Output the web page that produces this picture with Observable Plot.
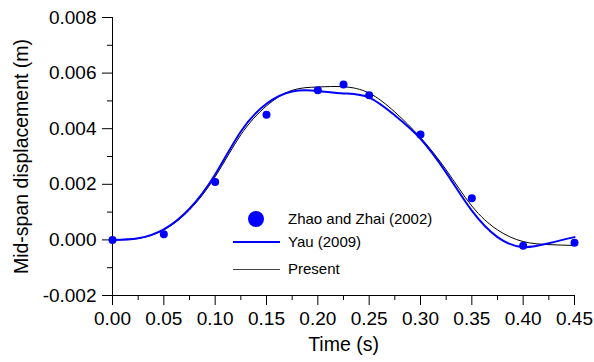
<!DOCTYPE html>
<html>
<head>
<meta charset="utf-8">
<script src="https://cdn.jsdelivr.net/npm/d3@7"></script>
<script src="https://cdn.jsdelivr.net/npm/@observablehq/plot@0.6"></script>
<style>
  body { margin: 0; background: #fff; }
  svg { font-family: "Liberation Sans", Arial, sans-serif; }
</style>
</head>
<body>
<div id="chart"></div>
<script>
// Time axis values (s)
const timeGrid = [0, 0.025, 0.05, 0.075, 0.1, 0.125, 0.15, 0.175, 0.2, 0.225, 0.25, 0.275, 0.3, 0.325, 0.35, 0.375, 0.4, 0.425, 0.45];
// Yau (2009) mid-span displacement (m)
const yauValues = [0, 0.00006, 0.00038, 0.00112, 0.00235, 0.0039, 0.0049, 0.00534, 0.00536, 0.00527, 0.00512, 0.00448, 0.00364, 0.00242, 0.00105, 0.0001, -0.00026, -0.00012, 0.0001];
// Present mid-span displacement (m)
const presentValues = [0, 0.00005, 0.00036, 0.00108, 0.00227, 0.00378, 0.00482, 0.00538, 0.0055, 0.00551, 0.00528, 0.0046, 0.00368, 0.00252, 0.00122, 0.00036, -0.00006, -0.00017, -0.0002];
// Zhao and Zhai (2002) points
const zhaoTimes = [0, 0.05, 0.1, 0.15, 0.2, 0.225, 0.25, 0.3, 0.35, 0.4, 0.45];
const zhaoValues = [0, 0.0002, 0.00208, 0.0045, 0.00538, 0.00559, 0.0052, 0.00379, 0.0015, -0.00021, -0.0001];
// Ticks
const xTicks = [0, 0.05, 0.1, 0.15, 0.2, 0.25, 0.3, 0.35, 0.4, 0.45];
const xMinorTicks = [0.025, 0.075, 0.125, 0.175, 0.225, 0.275, 0.325, 0.375, 0.425];
const yTicks = [-0.002, 0, 0.002, 0.004, 0.006, 0.008];
const yMinorTicks = [-0.001, 0.001, 0.003, 0.005, 0.007];
// Labels
const xTitle = "Time (s)";
const yTitle = "Mid-span displacement (m)";
const seriesNames = ["Zhao and Zhai (2002)", "Yau (2009)", "Present"];

const yau = timeGrid.map((t, i) => ({t, v: yauValues[i]}));
const present = timeGrid.map((t, i) => ({t, v: presentValues[i]}));
const zhao = zhaoTimes.map((t, i) => ({t, v: zhaoValues[i]}));

const font = "'Liberation Sans', Arial, sans-serif";

const plot = Plot.plot({
  width: 594,
  height: 362,
  marginLeft: 112,
  marginRight: 20,
  marginTop: 17,
  marginBottom: 67,
  style: {fontFamily: font, fontSize: "19px", background: "#fff", color: "#000"},
  x: {domain: [0, 0.45]},
  y: {domain: [-0.002, 0.008]},
  marks: [
    Plot.axisX({ticks: xTicks, tickFormat: d => d.toFixed(2), tickSize: 10, tickPadding: 6, fontSize: 19, label: null}),
    Plot.axisX({ticks: xMinorTicks, tickFormat: () => "", tickSize: 5, label: null}),
    Plot.axisY({ticks: yTicks, tickFormat: d => d.toFixed(3), tickSize: 10, tickPadding: 6, fontSize: 19, label: null}),
    Plot.axisY({ticks: yMinorTicks, tickFormat: () => "", tickSize: 5, label: null}),
    Plot.ruleX([0], {stroke: "#000"}),
    Plot.ruleY([-0.002], {stroke: "#000"}),
    Plot.line(present, {x: "t", y: "v", stroke: "#000", strokeWidth: 1, curve: "natural"}),
    Plot.line(yau, {x: "t", y: "v", stroke: "#0000ff", strokeWidth: 2, curve: "natural"}),
    Plot.dot(zhao, {x: "t", y: "v", fill: "#0000ff", r: 4}),
    Plot.text([xTitle], {frameAnchor: "bottom", textAnchor: "middle", dy: 55, fontSize: 19.5, fill: "#000"}),
    Plot.text([yTitle], {frameAnchor: "left", textAnchor: "middle", rotate: -90, dx: -91, fontSize: 19.5, fill: "#000"})
  ]
});

document.getElementById("chart").appendChild(plot);

// Legend (inside plot area)
const svg = d3.select(plot);
const lg = svg.append("g").attr("font-family", font).attr("font-size", 15).attr("fill", "#000").attr("text-anchor", "start");
lg.append("circle").attr("cx", 256).attr("cy", 219).attr("r", 8).attr("fill", "#0000ff");
lg.append("line").attr("x1", 233).attr("x2", 280).attr("y1", 242).attr("y2", 242).attr("stroke", "#0000ff").attr("stroke-width", 2);
lg.append("line").attr("x1", 233).attr("x2", 280).attr("y1", 269.5).attr("y2", 269.5).attr("stroke", "#444").attr("stroke-width", 1.2);
const ys = [219, 242, 269];
seriesNames.forEach((name, i) => {
  lg.append("text").attr("x", 288).attr("y", ys[i]).attr("dy", "0.35em").text(name);
});
</script>
</body>
</html>
